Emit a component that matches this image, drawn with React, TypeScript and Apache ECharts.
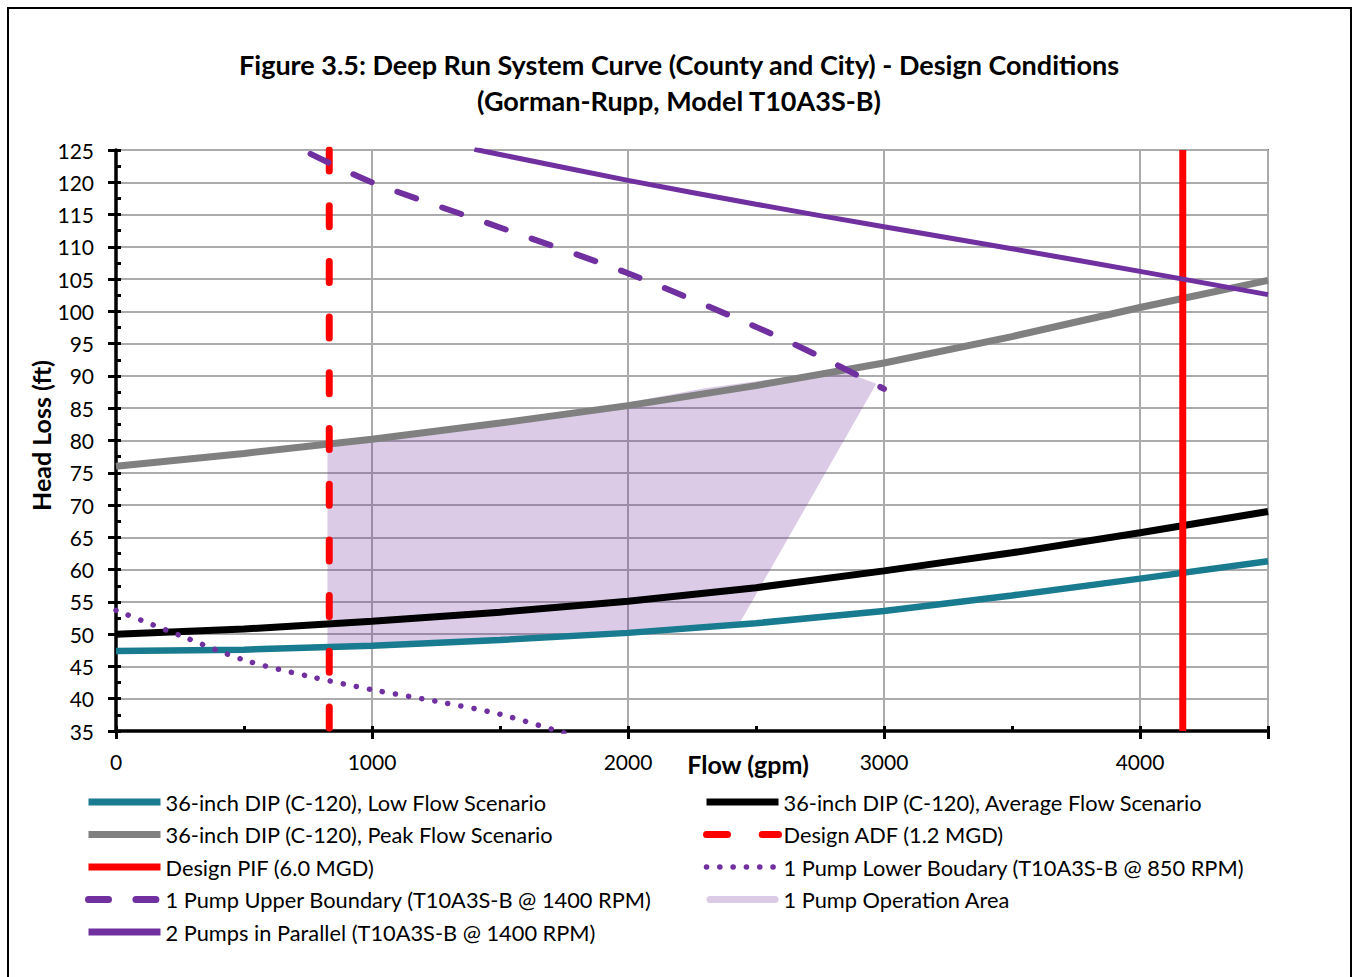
import React, { useEffect, useRef } from 'react';
import * as echarts from 'echarts';

const FONT = 'Lato, "Open Sans", "DejaVu Sans", sans-serif';

// System curves, sampled every 500 gpm
const flowGrid = [0, 500, 1000, 1500, 2000, 2500, 3000, 3500, 4000, 4500];
const lowFlowHead = [47.4, 47.6, 48.2, 49.1, 50.2, 51.7, 53.6, 56.0, 58.6, 61.3];
const avgFlowHead = [50.0, 50.8, 52.0, 53.4, 55.1, 57.2, 59.8, 62.6, 65.7, 69.0];
const peakFlowHead = [76.0, 78.0, 80.2, 82.7, 85.4, 88.5, 92.0, 96.1, 100.6, 104.8];

// Design flows (gpm)
const designAdfFlow = 833; // 1.2 MGD
const designPifFlow = 4167; // 6.0 MGD
const headRange = [125, 35];

// Pump curves
const lowerPumpFlow = [0, 250, 500, 750, 1000, 1250, 1500, 1750];
const lowerPumpHead = [53.7, 49.8, 46.0, 43.5, 41.4, 39.6, 37.6, 34.7];
const upperPumpFlow = [760, 1000, 1500, 2000, 2500, 2750, 3000];
const upperPumpHead = [124.4, 120.0, 113.0, 105.9, 97.6, 93.0, 88.0];
const parallelFlow = [1400, 1500, 2000, 2500, 3000, 3500, 4000, 4500];
const parallelHead = [125.1, 124.3, 120.3, 116.6, 113.1, 109.7, 106.2, 102.6];

// One-pump operating envelope (polygon vertices)
const opAreaFlow = [826, 826, 1500, 2000, 2300, 2830, 2970, 2433, 2000, 1500, 1000, 826];
const opAreaHead = [48.0, 79.4, 82.9, 85.9, 88.1, 90.9, 88.8, 51.5, 50.2, 49.1, 48.2, 48.0];

const xTicks = [0, 1000, 2000, 3000, 4000];

const names = {
  low: '36-inch DIP (C-120), Low Flow Scenario',
  avg: '36-inch DIP (C-120), Average Flow Scenario',
  peak: '36-inch DIP (C-120), Peak Flow Scenario',
  adf: 'Design ADF (1.2 MGD)',
  pif: 'Design PIF (6.0 MGD)',
  lower: '1 Pump Lower Boudary (T10A3S-B @ 850 RPM)',
  upper: '1 Pump Upper Boundary (T10A3S-B @ 1400 RPM)',
  area: '1 Pump Operation Area',
  parallel: '2 Pumps in Parallel (T10A3S-B @ 1400 RPM)',
};

const TEAL = '#197b8f';
const GRAY = '#808080';
const RED = '#ff0000';
const PURPLE = '#7030a0';
const AREA = 'rgba(112,48,160,0.25)';
const GRID = '#ababab';

const zip = (xs: number[], ys: number[]) => xs.map((x, i) => [x, ys[i]]);

function buildOption(): any {
  const lineSeries = (name: string, data: number[][], lineStyle: any, smooth: number | boolean = false) => ({
    name,
    type: 'line',
    data,
    symbol: 'none',
    showSymbol: false,
    smooth,
    clip: true,
    // hide the legend marker dot, keep only the stroke
    itemStyle: { color: lineStyle.color, opacity: 0 },
    lineStyle,
  });

  const legendBase = {
    orient: 'vertical',
    top: 786,
    itemWidth: 72,
    itemHeight: 7,
    itemGap: 10.5,
    selectedMode: false,
    textStyle: { fontSize: 21.8, lineHeight: 22, color: '#000', fontFamily: FONT },
    lineStyle: { width: 7 },
    itemStyle: { opacity: 0 },
  };

  return {
    animation: false,
    textStyle: { fontFamily: FONT },
    grid: {
      left: 116,
      top: 150,
      width: 1152,
      height: 581,
      show: true,
      borderColor: '#000',
      borderWidth: 1.5,
    },
    xAxis: [
      {
        type: 'value',
        min: 0,
        max: 4500,
        interval: 1000,
        axisLine: { show: true, lineStyle: { color: '#000', width: 3.5 } },
        axisTick: { show: true, length: 8, lineStyle: { color: '#000', width: 3 } },
        axisLabel: {
          margin: 20,
          fontSize: 21,
          color: '#000',
          fontFamily: FONT,
          formatter: (v: number) => (xTicks.includes(v) ? String(v) : ''),
        },
        splitLine: { show: true, lineStyle: { color: GRID, width: 2 } },
      },
      {
        type: 'value',
        min: 0,
        max: 4500,
        interval: 500,
        position: 'bottom',
        axisLine: { show: false },
        axisTick: { show: true, inside: true, length: 5, lineStyle: { color: '#000', width: 3 } },
        axisLabel: { show: false },
        splitLine: { show: false },
      },
    ],
    yAxis: [
      {
        type: 'value',
        min: 35,
        max: 125,
        interval: 5,
        name: 'Head Loss (ft)',
        nameLocation: 'middle',
        nameGap: 63,
        nameMoveOverlap: false,
        nameTextStyle: {
          fontSize: 25,
          fontWeight: 'bold',
          color: '#000',
          fontFamily: FONT,
          padding: [0, 0, 0, 10],
        },
        axisLine: { show: true, lineStyle: { color: '#000', width: 3.5 } },
        axisTick: { show: true, length: 8, lineStyle: { color: '#000', width: 3 } },
        axisLabel: { margin: 22, fontSize: 21, color: '#000', fontFamily: FONT },
        splitLine: { show: true, lineStyle: { color: GRID, width: 2 } },
      },
      {
        type: 'value',
        min: 35,
        max: 125,
        interval: 2.5,
        position: 'left',
        axisLine: { show: false },
        axisTick: { show: true, inside: true, length: 5, lineStyle: { color: '#000', width: 3 } },
        axisLabel: { show: false },
        splitLine: { show: false },
      },
    ],
    legend: [
      {
        ...legendBase,
        left: 80,
        data: [
          { name: names.low },
          { name: names.peak },
          { name: names.pif },
          { name: names.upper },
          { name: names.parallel },
        ],
      },
      {
        ...legendBase,
        left: 698,
        data: [
          { name: names.avg },
          { name: names.adf },
          { name: names.lower, lineStyle: { width: 5.5 } },
          {
            name: names.area,
            icon: 'path://M3.5,0 H68.5 A3.5,3.5 0 0 1 68.5,7 H3.5 A3.5,3.5 0 0 1 3.5,0 Z',
            itemStyle: { opacity: 1, color: AREA },
          },
        ],
      },
    ],
    graphic: [
      {
        type: 'polyline',
        silent: true,
        shape: { points: [[8, 995], [8, 8], [1351, 8], [1351, 995]] },
        style: { stroke: '#000', lineWidth: 2, fill: null },
      },
      {
        type: 'text',
        x: 679,
        y: 64,
        style: {
          text: 'Figure 3.5: Deep Run System Curve (County and City) - Design Conditions',
          font: `bold 27px ${FONT}`,
          fill: '#000',
          textAlign: 'center',
          textVerticalAlign: 'middle',
        },
      },
      {
        type: 'text',
        x: 679,
        y: 100,
        style: {
          text: '(Gorman-Rupp, Model T10A3S-B)',
          font: `bold 27px ${FONT}`,
          fill: '#000',
          textAlign: 'center',
          textVerticalAlign: 'middle',
        },
      },
      {
        type: 'text',
        x: 748,
        y: 764,
        style: {
          text: 'Flow (gpm)',
          font: `bold 25px ${FONT}`,
          fill: '#000',
          textAlign: 'center',
          textVerticalAlign: 'middle',
        },
      },
    ],
    series: [
      lineSeries(names.low, zip(flowGrid, lowFlowHead), { color: TEAL, width: 6.5 }),
      lineSeries(names.avg, zip(flowGrid, avgFlowHead), { color: '#000', width: 7 }),
      lineSeries(names.peak, zip(flowGrid, peakFlowHead), { color: GRAY, width: 7 }),
      lineSeries(
        names.adf,
        headRange.map((h) => [designAdfFlow, h]),
        { color: RED, width: 7, type: [21, 34.7], cap: 'round' }
      ),
      lineSeries(
        names.pif,
        headRange.map((h) => [designPifFlow, h]),
        { color: RED, width: 7 }
      ),
      lineSeries(
        names.lower,
        zip(lowerPumpFlow, lowerPumpHead),
        { color: PURPLE, width: 5.5, type: [0.1, 13.2], cap: 'round' },
        0.3
      ),
      {
        name: names.area,
        type: 'custom',
        clip: true,
        data: [[0, 0]],
        itemStyle: { color: AREA },
        renderItem: (_params: any, api: any) => ({
          type: 'polygon',
          shape: { points: opAreaFlow.map((f, i) => api.coord([f, opAreaHead[i]])) },
          style: { fill: AREA },
        }),
      },
      lineSeries(
        names.upper,
        zip(upperPumpFlow, upperPumpHead),
        { color: PURPLE, width: 6, type: [20, 27.4], cap: 'round' },
        0.3
      ),
      lineSeries(names.parallel, zip(parallelFlow, parallelHead), { color: PURPLE, width: 5 }, 0.3),
    ],
  };
}

export default function App() {
  const ref = useRef<HTMLDivElement>(null);
  useEffect(() => {
    if (!ref.current) return;
    const chart = echarts.init(ref.current, null, { renderer: 'svg' });
    chart.setOption(buildOption());
    return () => chart.dispose();
  }, []);
  return (
    <div
      ref={ref}
      style={{ position: 'absolute', left: 0, top: 0, width: 1353, height: 977, background: '#fff' }}
    />
  );
}
